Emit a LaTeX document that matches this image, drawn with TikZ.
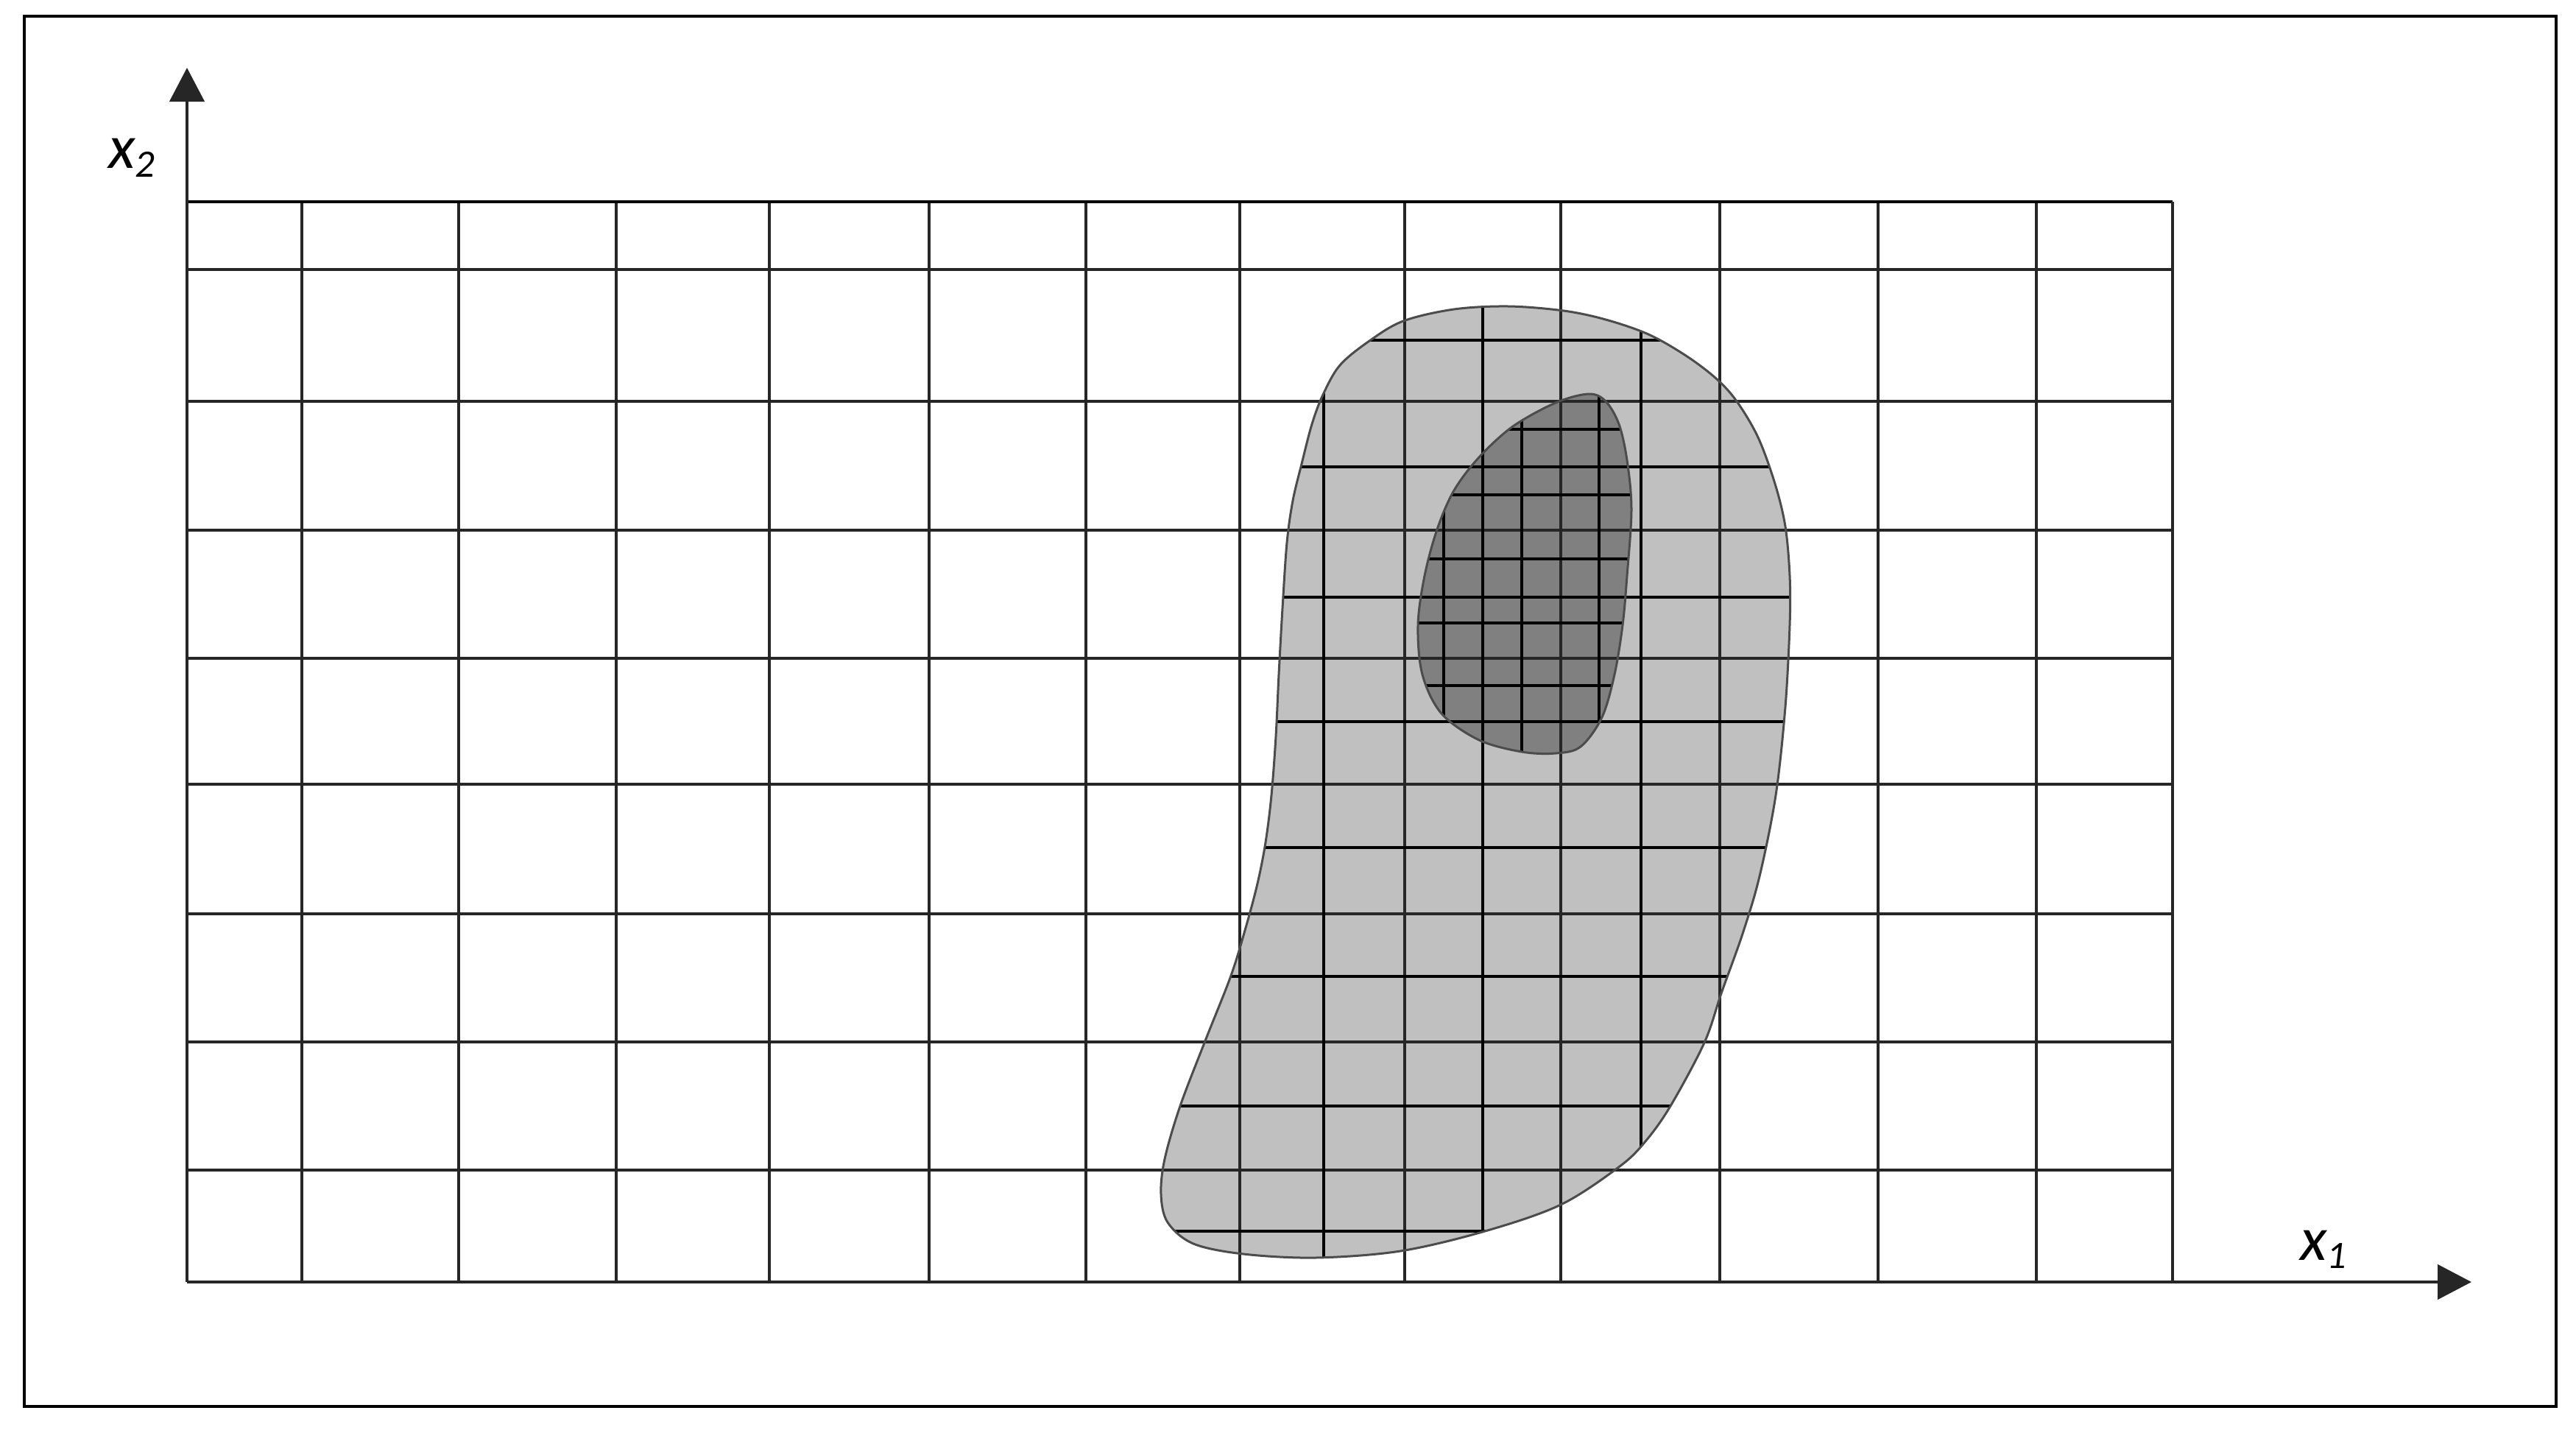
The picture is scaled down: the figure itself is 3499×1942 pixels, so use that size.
\documentclass[tikz,border=0pt]{standalone}
\usepackage{fontspec}
\newfontfamily\labfont{Carlito}
\usetikzlibrary{arrows.meta}
\definecolor{lightfill}{RGB}{192,192,192}
\definecolor{darkfill}{RGB}{128,128,128}
\begin{document}
\begin{tikzpicture}[x=0.01cm,y=-0.01cm,
  gridline/.style={line width=0.045cm, draw=black!85},
  fineline/.style={line width=0.04cm, draw=black},
  blobedge/.style={line width=0.03cm, draw=black!70},
  axisline/.style={line width=0.045cm, draw=black!85, -{Triangle[length=0.46cm,width=0.47cm]}},
  framebox/.style={line width=0.035cm, draw=black},
  lab/.style={inner sep=0pt, font=\labfont\itshape\fontsize{24}{28}\selectfont}]
\useasboundingbox (0,0) rectangle (3499,1942);
\fill[white] (0,0) rectangle (3499,1942);
% region outlines
\path[save path=\lightpath] plot[smooth cycle,tension=0.55] coordinates {
 (2049,416) (2124,422) (2181,434) (2239,454) (2290,483) (2331,514) (2359,545)
 (2388,594) (2411,657) (2425,715) (2431,782) (2431,849) (2425,960) (2412,1080)
 (2390,1190) (2367,1268) (2338,1349) (2315,1416) (2269,1502) (2235,1550) (2200,1584)
 (2120,1636) (2017,1672) (1902,1699) (1787,1708) (1689,1703) (1621,1689) (1586,1660)
 (1577,1622) (1582,1574) (1603,1502) (1638,1411) (1672,1325) (1692,1260) (1708,1200)
 (1719,1144) (1727,1080) (1733,1000) (1737,916) (1742,826) (1748,737) (1756,680)
 (1768,630) (1782,576) (1797,536) (1820,496) (1860,463) (1906,436) (1975,420)};
\path[save path=\darkpath] plot[smooth cycle,tension=0.55] coordinates {
 (2158,535) (2181,545) (2199,576) (2210,625) (2216,692) (2210,782) (2204,849)
 (2193,916) (2176,974) (2147,1014) (2113,1023) (2067,1021) (2009,1005) (1958,969)
 (1932,916) (1926,849) (1935,782) (1952,719) (1975,666) (2009,621) (2055,579) (2113,547)};
\fill[lightfill, use path=\lightpath];
\fill[darkfill, use path=\darkpath];
% main grid
\foreach \x in {410,623,837,1045,1262,1475,1684,1908,2120,2336,2551,2766}
  \draw[gridline] (\x,274) -- (\x,1741);
\foreach \y in {366,545,720,894,1065,1241,1415,1589}
  \draw[gridline] (254,\y) -- (2951,\y);
\draw[gridline, draw=black] (254,274) -- (2951,274);
\draw[gridline] (2951,274) -- (2951,1741);
% refined lines in light region
\begin{scope}
  \clip[use path=\lightpath];
  \foreach \x in {1798,2014,2229}
    \draw[fineline] (\x,300) -- (\x,1741);
  \foreach \y in {462,634,811,980,1151,1326,1502,1672}
    \draw[fineline] (1500,\y) -- (2500,\y);
\end{scope}
% refined lines in dark region
\begin{scope}
  \clip[use path=\darkpath];
  \foreach \x in {1961,2067,2172}
    \draw[fineline] (\x,500) -- (\x,1100);
  \foreach \y in {583,672,759,846,931}
    \draw[fineline] (1900,\y) -- (2250,\y);
\end{scope}
\draw[blobedge, use path=\lightpath];
\draw[blobedge, use path=\darkpath];
% axes
\coordinate (o) at (254,1741);
\coordinate (ytip) at (254,92);
\coordinate (xtip) at (3357,1741);
\draw[axisline] (o) -- (ytip);
\draw[axisline] (o) -- (xtip);
\node[lab] (lx2) at (179,214) {x\raisebox{-3.5pt}{\fontsize{15}{18}\selectfont 2}};
\node[lab] (lx1) at (3156,1697) {x\raisebox{-3pt}{\fontsize{15}{18}\selectfont 1}};
% frame
\draw[framebox] (33,22) rectangle (3472,1910);
\end{tikzpicture}
\end{document}
